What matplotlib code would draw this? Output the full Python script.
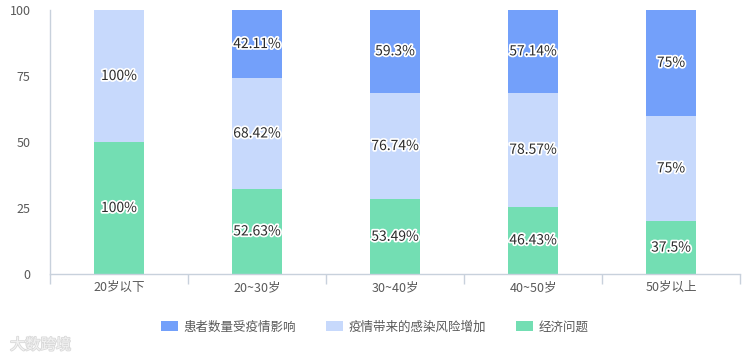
import matplotlib
matplotlib.use("Agg")
import matplotlib.pyplot as plt
import matplotlib.patheffects as pe
import numpy as np

plt.rcParams['font.family'] = ['Noto Sans CJK SC', 'DejaVu Sans']

categories = ["20岁以下", "20~30岁", "30~40岁", "40~50岁", "50岁以上"]
series_names = ["患者数量受疫情影响", "疫情带来的感染风险增加", "经济问题"]
patients = [0, 42.11, 59.3, 57.14, 75]
risk = [100, 68.42, 76.74, 78.57, 75]
economy = [100, 52.63, 53.49, 46.43, 37.5]
yticks = [0, 25, 50, 75, 100]

colors = {"患者数量受疫情影响": "#73a0fa", "疫情带来的感染风险增加": "#c7d9fc", "经济问题": "#73deb3"}

fig = plt.figure(figsize=(7.5, 3.6), dpi=100)
ax = fig.add_axes([50/750, 86/360, 690/750, 264/360])

x = np.arange(len(categories))
raw = np.array([economy, risk, patients])
totals = raw.sum(axis=0)
norm = raw / totals * 100
order = ["经济问题", "疫情带来的感染风险增加", "患者数量受疫情影响"]
bottom = np.zeros(len(categories))
bw = 50 / 138
bars = {}
for name, vals, rv in zip(order, norm, raw):
    bars[name] = ax.bar(x, vals, bottom=bottom, width=bw, color=colors[name], label=name, zorder=2)
    for xi, v, b, r in zip(x, vals, bottom, rv):
        if r > 0:
            ax.text(xi, b + v / 2, f"{r:g}%", ha="center", va="center", fontsize=10,
                    color="#2b2b2b", zorder=3,
                    path_effects=[pe.withStroke(linewidth=2.5, foreground="white")])
    bottom = bottom + vals

ax.set_xlim(-0.5, len(categories) - 0.5)
ax.set_ylim(0, 100)
ax.set_yticks(yticks)
ax.set_yticklabels([str(t) for t in yticks], fontsize=9, color="#595959")
ax.tick_params(axis="y", length=0, pad=14)
ax.set_xticks(x)
ax.set_xticklabels(categories, fontsize=9, color="#595959")
ax.tick_params(axis="x", which="major", length=0, pad=5)
ax.set_xticks(np.arange(-0.5, len(categories)), minor=True)
ax.tick_params(axis="x", which="minor", length=7, color="#c8d1dc", width=1)

for s in ["top", "right"]:
    ax.spines[s].set_visible(False)
for s in ["left", "bottom"]:
    ax.spines[s].set_color("#c8d1dc")
    ax.spines[s].set_linewidth(1)

handles = [bars[n] for n in series_names]
leg = fig.legend(handles, series_names, loc="center", bbox_to_anchor=(375/750, 1 - 327/360),
                 ncol=3, frameon=False, fontsize=9, handlelength=1.3, handleheight=0.9,
                 columnspacing=2.4, handletextpad=0.5)
for t in leg.get_texts():
    t.set_color("#595959")

fig.text(10/750, 1 - 345/360, "大数跨境", fontsize=11, color="#f2f2f2", va="center", ha="left",
         path_effects=[pe.withStroke(linewidth=1.2, foreground="#d9d9d9")])

fig.savefig("out.png", dpi=100)
